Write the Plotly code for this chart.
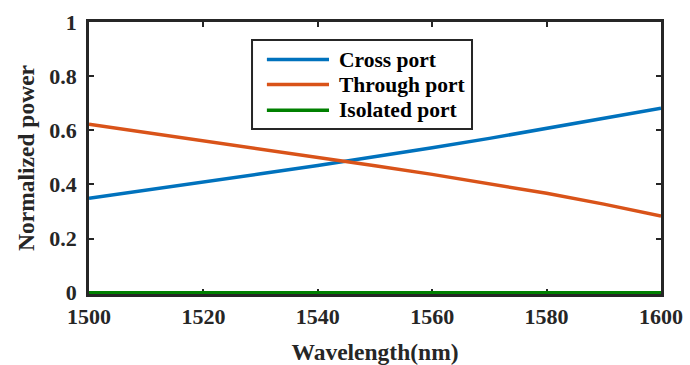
import plotly.graph_objects as go

wavelength = [1500, 1510, 1520, 1530, 1540, 1550, 1560, 1570, 1580, 1590, 1600]
cross_port = [0.349, 0.378, 0.408, 0.439, 0.470, 0.502, 0.535, 0.570, 0.606, 0.643, 0.681]
through_port = [0.622, 0.592, 0.561, 0.530, 0.500, 0.469, 0.437, 0.403, 0.367, 0.327, 0.283]
isolated_port = [0, 0, 0, 0, 0, 0, 0, 0, 0, 0, 0]

series_names = ["Cross port", "Through port", "Isolated port"]
series_colors = ["#0072BD", "#D95319", "#008000"]
x_ticks = [1500, 1520, 1540, 1560, 1580, 1600]
y_ticks = [0, 0.2, 0.4, 0.6, 0.8, 1]
y_tick_text = ["0", "0.2", "0.4", "0.6", "0.8", "1"]

FONT = "Liberation Serif"
AX = "#262626"

fig = go.Figure()
for name, ys, col in zip(series_names, [cross_port, through_port, isolated_port], series_colors):
    fig.add_trace(go.Scatter(x=wavelength, y=ys, mode="lines", name=name,
                             line=dict(color=col, width=3.5), showlegend=False))

axis_common = dict(showline=True, linecolor=AX, linewidth=2.5, mirror="ticks",
                   ticks="inside", ticklen=5, tickwidth=2, tickcolor=AX,
                   showgrid=False, zeroline=False, layer="below traces", automargin=False,
                   tickfont=dict(family=FONT, size=22, color=AX, weight="bold"))

fig.update_xaxes(range=[1500, 1600], tickvals=x_ticks, ticklabelstandoff=1,
                 title=dict(text="<b>Wavelength(nm)</b>", font=dict(family=FONT, size=23.5, color=AX), standoff=16),
                 **axis_common)
fig.update_yaxes(range=[-0.005, 1], tickvals=y_ticks, ticktext=y_tick_text, ticklabelstandoff=5,
                 title=dict(text="<b>Normalized power</b>", font=dict(family=FONT, size=23.5, color=AX), standoff=9),
                 **axis_common)

# legend box drawn in paper coordinates
leg_x0, leg_x1, leg_y0, leg_y1 = 0.285, 0.6696, 0.6066, 0.934
sample_x0, sample_x1, text_x = 0.311, 0.4196, 0.4336
row_y = [0.862, 0.770, 0.676]
fig.add_shape(type="rect", xref="paper", yref="paper", x0=leg_x0, x1=leg_x1, y0=leg_y0, y1=leg_y1,
              line=dict(color=AX, width=2), fillcolor="white", layer="above")
for name, col, ry in zip(series_names, series_colors, row_y):
    fig.add_shape(type="line", xref="paper", yref="paper", x0=sample_x0, x1=sample_x1, y0=ry, y1=ry,
                  line=dict(color=col, width=3.5), layer="above")
    fig.add_annotation(xref="paper", yref="paper", x=text_x, y=ry, text="<b>" + name + "</b>",
                       showarrow=False, xanchor="left", yanchor="middle",
                       font=dict(family=FONT, size=21.5, color="black"))

fig.update_layout(width=690, height=365, margin=dict(l=89, r=29, t=22, b=71),
                  paper_bgcolor="white", plot_bgcolor="white",
                  font=dict(family=FONT, color=AX))
fig.write_html("out.html")
